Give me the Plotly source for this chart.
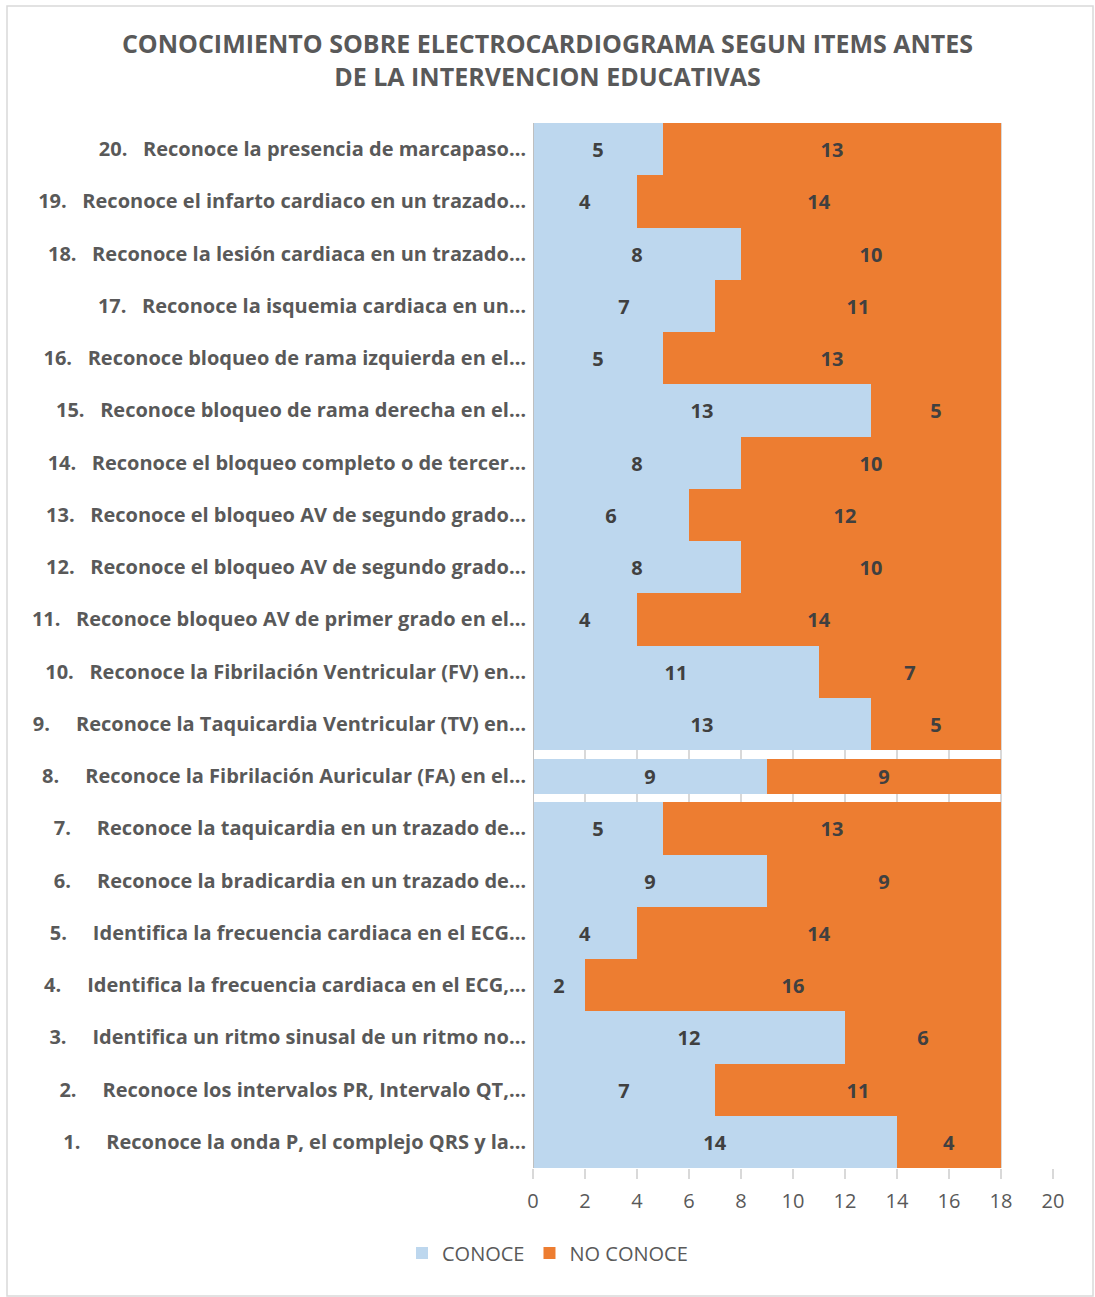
import plotly.graph_objects as go

# Item numbers (1 = bottom row) and their truncated labels
items = list(range(1, 21))
item_labels = [
    "1.\u00a0\u00a0\u00a0\u00a0\u00a0Reconoce la onda P, el complejo QRS y la…",
    "2.\u00a0\u00a0\u00a0\u00a0\u00a0Reconoce los intervalos PR, Intervalo QT,…",
    "3.\u00a0\u00a0\u00a0\u00a0\u00a0Identifica un ritmo sinusal de un ritmo no…",
    "4.\u00a0\u00a0\u00a0\u00a0\u00a0Identifica la frecuencia cardiaca en el ECG,…",
    "5.\u00a0\u00a0\u00a0\u00a0\u00a0Identifica la frecuencia cardiaca en el ECG…",
    "6.\u00a0\u00a0\u00a0\u00a0\u00a0Reconoce la bradicardia en un trazado de…",
    "7.\u00a0\u00a0\u00a0\u00a0\u00a0Reconoce la taquicardia en un trazado de…",
    "8.\u00a0\u00a0\u00a0\u00a0\u00a0Reconoce la Fibrilación Auricular (FA) en el…",
    "9.\u00a0\u00a0\u00a0\u00a0\u00a0Reconoce la Taquicardia Ventricular (TV) en…",
    "10.\u00a0\u00a0\u00a0Reconoce la Fibrilación Ventricular (FV) en…",
    "11.\u00a0\u00a0\u00a0Reconoce bloqueo AV de primer grado en el…",
    "12.\u00a0\u00a0\u00a0Reconoce el bloqueo AV de segundo grado…",
    "13.\u00a0\u00a0\u00a0Reconoce el bloqueo AV de segundo grado…",
    "14.\u00a0\u00a0\u00a0Reconoce el bloqueo completo o de tercer…",
    "15.\u00a0\u00a0\u00a0Reconoce bloqueo de rama derecha en el…",
    "16.\u00a0\u00a0\u00a0Reconoce bloqueo de rama izquierda en el…",
    "17.\u00a0\u00a0\u00a0Reconoce la isquemia cardiaca en un…",
    "18.\u00a0\u00a0\u00a0Reconoce la lesión cardiaca en un trazado…",
    "19.\u00a0\u00a0\u00a0Reconoce el infarto cardiaco en un trazado…",
    "20.\u00a0\u00a0\u00a0Reconoce la presencia de marcapaso…",
]

conoce = [14, 7, 12, 2, 4, 9, 5, 9, 13, 11, 4, 8, 6, 8, 13, 5, 7, 8, 4, 5]
no_conoce = [4, 11, 6, 16, 14, 9, 13, 9, 5, 7, 14, 10, 12, 10, 5, 13, 11, 10, 14, 13]

x_ticks = list(range(0, 21, 2))

BLUE = "#BDD7EE"
ORANGE = "#ED7D31"
GREY_TEXT = "#595959"
FONT = "Open Sans"

# item 8 is drawn as a narrower band
bar_widths = [0.67 if i == 8 else 1.0 for i in items]

fig = go.Figure()
for name, vals, color in [("CONOCE", conoce, BLUE), ("NO CONOCE", no_conoce, ORANGE)]:
    fig.add_trace(go.Bar(
        name=name,
        y=items,
        x=vals,
        orientation="h",
        width=bar_widths,
        marker=dict(color=color, line=dict(width=0)),
        text=vals,
        textposition="inside",
        insidetextanchor="middle",
        textangle=0,
        constraintext="none",
        textfont=dict(family=FONT, size=20, color="#404040", weight="bold"),
    ))

W, H = 1095, 1297
L, R, T, B = 533, 42, 123, 129

fig.update_layout(
    width=W,
    height=H,
    barmode="stack",
    bargap=0,
    paper_bgcolor="white",
    plot_bgcolor="white",
    margin=dict(l=L, r=R, t=T, b=B),
    title=dict(
        text="CONOCIMIENTO SOBRE ELECTROCARDIOGRAMA SEGUN ITEMS ANTES<br>DE LA INTERVENCION EDUCATIVAS",
        x=0.5,
        xref="container",
        xanchor="center",
        y=1 - 53 / H,
        yref="container",
        yanchor="middle",
        font=dict(family=FONT, size=25, color=GREY_TEXT, weight="bold"),
    ),
    xaxis=dict(
        range=[0, 20],
        tickvals=x_ticks,
        ticktext=[str(v) for v in x_ticks],
        showgrid=True,
        gridcolor="#D9D9D9",
        gridwidth=2,
        zeroline=False,
        showline=False,
        ticks="outside",
        ticklen=10,
        tickwidth=2,
        tickcolor="#D9D9D9",
        ticklabelstandoff=5,
        tickfont=dict(family=FONT, size=20, color=GREY_TEXT),
        fixedrange=True,
    ),
    yaxis=dict(
        range=[0.5, 20.5],
        tickvals=items,
        ticktext=item_labels,
        showgrid=False,
        zeroline=False,
        showline=False,
        ticks="",
        ticklabelstandoff=6,
        tickfont=dict(family=FONT, size=20, color=GREY_TEXT, weight="bold"),
        fixedrange=True,
    ),
    legend=dict(
        orientation="h",
        xref="container",
        yref="container",
        x=0.5,
        xanchor="center",
        y=1 - 1253 / H,
        yanchor="middle",
        font=dict(family=FONT, size=20, color=GREY_TEXT),
        traceorder="normal",
        itemwidth=30,
    ),
    shapes=[
        # y-axis line
        dict(type="line", xref="x", yref="paper", x0=0, x1=0, y0=0, y1=1,
             line=dict(color="#BFBFBF", width=2)),
        # chart border
        dict(type="rect", xref="paper", yref="paper",
             x0=(7 - L) / (W - L - R), x1=(1093 - L) / (W - L - R),
             y0=(H - B - 1296) / (H - T - B), y1=(H - B - 6) / (H - T - B),
             line=dict(color="#D9D9D9", width=1.5), fillcolor="rgba(0,0,0,0)"),
    ],
)

fig.write_html("out.html")
